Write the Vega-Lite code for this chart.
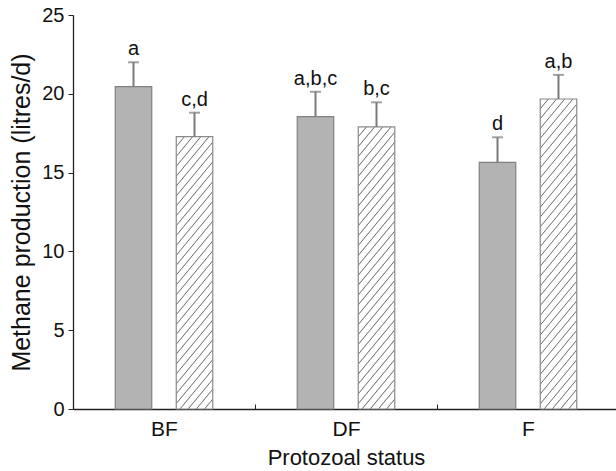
{
  "$schema": "https://vega.github.io/schema/vega-lite/v6.json",
  "autosize": {"type": "none"},
  "padding": {"left": 73, "top": 15, "right": 0, "bottom": 62},
  "width": 543,
  "height": 394,
  "background": "white",
  "config": {
    "view": {"stroke": null},
    "font": "Liberation Sans",
    "axis": {"labelFont": "Liberation Sans", "titleFont": "Liberation Sans", "labelColor": "#111", "titleColor": "#111", "titleFontWeight": "normal", "domainColor": "#222", "tickColor": "#222", "domainWidth": 1.3, "grid": false}
  },
  "data": {
    "values": [
      {"status": "BF", "group": "A", "mean": 20.45, "upper": 22.0, "label": "a"},
      {"status": "BF", "group": "B", "mean": 17.28, "upper": 18.8, "label": "c,d"},
      {"status": "DF", "group": "A", "mean": 18.55, "upper": 20.13, "label": "a,b,c"},
      {"status": "DF", "group": "B", "mean": 17.9, "upper": 19.46, "label": "b,c"},
      {"status": "F", "group": "A", "mean": 15.65, "upper": 17.24, "label": "d"},
      {"status": "F", "group": "B", "mean": 19.67, "upper": 21.2, "label": "a,b"}
    ]
  },
  "encoding": {
    "x": {"field": "status", "type": "nominal", "sort": ["BF", "DF", "F"],
      "scale": {"range": [0, 546], "paddingInner": 0, "paddingOuter": 0},
      "axis": {"title": "Protozoal status", "labelAngle": 0, "labelFontSize": 21, "titleFontSize": 22, "tickBand": "extent", "tickSize": -5, "labelPadding": 14, "titlePadding": 8}},
    "xOffset": {"field": "group", "type": "nominal", "scale": {"domain": ["A", "B"], "paddingInner": 0.4016, "paddingOuter": 0.6926}}
  },
  "layer": [
    {
      "transform": [{"filter": "datum.group === 'A'"}],
      "mark": {"type": "bar", "fill": "#b3b3b3", "stroke": "#808080", "strokeWidth": 1.2},
      "encoding": {"y": {"field": "mean", "type": "quantitative", "scale": {"domain": [0, 25], "nice": false},
        "axis": {"title": "Methane production (litres/d)", "values": [0, 5, 10, 15, 20, 25], "labelFontSize": 20, "titleFontSize": 25, "tickSize": 5, "labelPadding": 4, "titlePadding": 7}}}
    },
    {
      "transform": [{"filter": "datum.group === 'B' && datum.status === 'BF'"}],
      "mark": {"type": "bar", "stroke": "#8a8a8a", "strokeWidth": 1.2,
        "fill": {"gradient": "linear", "x1": 0, "y1": 0, "x2": 0.18309, "y2": 1.13203, "stops": [
          {"offset": 0, "color": "#ffffff"},
          {"offset": 0.02725, "color": "#ffffff"}, {"offset": 0.03125, "color": "#6e6e6e"}, {"offset": 0.03525, "color": "#ffffff"},
          {"offset": 0.0585, "color": "#ffffff"}, {"offset": 0.0625, "color": "#6e6e6e"}, {"offset": 0.0665, "color": "#ffffff"},
          {"offset": 0.08975, "color": "#ffffff"}, {"offset": 0.09375, "color": "#6e6e6e"}, {"offset": 0.09775, "color": "#ffffff"},
          {"offset": 0.121, "color": "#ffffff"}, {"offset": 0.125, "color": "#6e6e6e"}, {"offset": 0.129, "color": "#ffffff"},
          {"offset": 0.15225, "color": "#ffffff"}, {"offset": 0.15625, "color": "#6e6e6e"}, {"offset": 0.16025, "color": "#ffffff"},
          {"offset": 0.1835, "color": "#ffffff"}, {"offset": 0.1875, "color": "#6e6e6e"}, {"offset": 0.1915, "color": "#ffffff"},
          {"offset": 0.21475, "color": "#ffffff"}, {"offset": 0.21875, "color": "#6e6e6e"}, {"offset": 0.22275, "color": "#ffffff"},
          {"offset": 0.246, "color": "#ffffff"}, {"offset": 0.25, "color": "#6e6e6e"}, {"offset": 0.254, "color": "#ffffff"},
          {"offset": 0.27725, "color": "#ffffff"}, {"offset": 0.28125, "color": "#6e6e6e"}, {"offset": 0.28525, "color": "#ffffff"},
          {"offset": 0.3085, "color": "#ffffff"}, {"offset": 0.3125, "color": "#6e6e6e"}, {"offset": 0.3165, "color": "#ffffff"},
          {"offset": 0.33975, "color": "#ffffff"}, {"offset": 0.34375, "color": "#6e6e6e"}, {"offset": 0.34775, "color": "#ffffff"},
          {"offset": 0.371, "color": "#ffffff"}, {"offset": 0.375, "color": "#6e6e6e"}, {"offset": 0.379, "color": "#ffffff"},
          {"offset": 0.40225, "color": "#ffffff"}, {"offset": 0.40625, "color": "#6e6e6e"}, {"offset": 0.41025, "color": "#ffffff"},
          {"offset": 0.4335, "color": "#ffffff"}, {"offset": 0.4375, "color": "#6e6e6e"}, {"offset": 0.4415, "color": "#ffffff"},
          {"offset": 0.46475, "color": "#ffffff"}, {"offset": 0.46875, "color": "#6e6e6e"}, {"offset": 0.47275, "color": "#ffffff"},
          {"offset": 0.496, "color": "#ffffff"}, {"offset": 0.5, "color": "#6e6e6e"}, {"offset": 0.504, "color": "#ffffff"},
          {"offset": 0.52725, "color": "#ffffff"}, {"offset": 0.53125, "color": "#6e6e6e"}, {"offset": 0.53525, "color": "#ffffff"},
          {"offset": 0.5585, "color": "#ffffff"}, {"offset": 0.5625, "color": "#6e6e6e"}, {"offset": 0.5665, "color": "#ffffff"},
          {"offset": 0.58975, "color": "#ffffff"}, {"offset": 0.59375, "color": "#6e6e6e"}, {"offset": 0.59775, "color": "#ffffff"},
          {"offset": 0.621, "color": "#ffffff"}, {"offset": 0.625, "color": "#6e6e6e"}, {"offset": 0.629, "color": "#ffffff"},
          {"offset": 0.65225, "color": "#ffffff"}, {"offset": 0.65625, "color": "#6e6e6e"}, {"offset": 0.66025, "color": "#ffffff"},
          {"offset": 0.6835, "color": "#ffffff"}, {"offset": 0.6875, "color": "#6e6e6e"}, {"offset": 0.6915, "color": "#ffffff"},
          {"offset": 0.71475, "color": "#ffffff"}, {"offset": 0.71875, "color": "#6e6e6e"}, {"offset": 0.72275, "color": "#ffffff"},
          {"offset": 0.746, "color": "#ffffff"}, {"offset": 0.75, "color": "#6e6e6e"}, {"offset": 0.754, "color": "#ffffff"},
          {"offset": 0.77725, "color": "#ffffff"}, {"offset": 0.78125, "color": "#6e6e6e"}, {"offset": 0.78525, "color": "#ffffff"},
          {"offset": 0.8085, "color": "#ffffff"}, {"offset": 0.8125, "color": "#6e6e6e"}, {"offset": 0.8165, "color": "#ffffff"},
          {"offset": 0.83975, "color": "#ffffff"}, {"offset": 0.84375, "color": "#6e6e6e"}, {"offset": 0.84775, "color": "#ffffff"},
          {"offset": 0.871, "color": "#ffffff"}, {"offset": 0.875, "color": "#6e6e6e"}, {"offset": 0.879, "color": "#ffffff"},
          {"offset": 0.90225, "color": "#ffffff"}, {"offset": 0.90625, "color": "#6e6e6e"}, {"offset": 0.91025, "color": "#ffffff"},
          {"offset": 0.9335, "color": "#ffffff"}, {"offset": 0.9375, "color": "#6e6e6e"}, {"offset": 0.9415, "color": "#ffffff"},
          {"offset": 0.96475, "color": "#ffffff"}, {"offset": 0.96875, "color": "#6e6e6e"}, {"offset": 0.97275, "color": "#ffffff"},
          {"offset": 1, "color": "#ffffff"}
        ]}},
      "encoding": {"y": {"field": "mean", "type": "quantitative"}}
    },
    {
      "transform": [{"filter": "datum.group === 'B' && datum.status === 'DF'"}],
      "mark": {"type": "bar", "stroke": "#8a8a8a", "strokeWidth": 1.2,
        "fill": {"gradient": "linear", "x1": 0, "y1": 0, "x2": 0.17641, "y2": 1.12871, "stops": [
          {"offset": 0, "color": "#ffffff"},
          {"offset": 0.0263, "color": "#ffffff"}, {"offset": 0.0303, "color": "#6e6e6e"}, {"offset": 0.0343, "color": "#ffffff"},
          {"offset": 0.0566, "color": "#ffffff"}, {"offset": 0.0606, "color": "#6e6e6e"}, {"offset": 0.0646, "color": "#ffffff"},
          {"offset": 0.0869, "color": "#ffffff"}, {"offset": 0.0909, "color": "#6e6e6e"}, {"offset": 0.0949, "color": "#ffffff"},
          {"offset": 0.1172, "color": "#ffffff"}, {"offset": 0.1212, "color": "#6e6e6e"}, {"offset": 0.1252, "color": "#ffffff"},
          {"offset": 0.1475, "color": "#ffffff"}, {"offset": 0.1515, "color": "#6e6e6e"}, {"offset": 0.1555, "color": "#ffffff"},
          {"offset": 0.1778, "color": "#ffffff"}, {"offset": 0.1818, "color": "#6e6e6e"}, {"offset": 0.1858, "color": "#ffffff"},
          {"offset": 0.2081, "color": "#ffffff"}, {"offset": 0.2121, "color": "#6e6e6e"}, {"offset": 0.2161, "color": "#ffffff"},
          {"offset": 0.2384, "color": "#ffffff"}, {"offset": 0.2424, "color": "#6e6e6e"}, {"offset": 0.2464, "color": "#ffffff"},
          {"offset": 0.2687, "color": "#ffffff"}, {"offset": 0.2727, "color": "#6e6e6e"}, {"offset": 0.2767, "color": "#ffffff"},
          {"offset": 0.299, "color": "#ffffff"}, {"offset": 0.303, "color": "#6e6e6e"}, {"offset": 0.307, "color": "#ffffff"},
          {"offset": 0.3293, "color": "#ffffff"}, {"offset": 0.3333, "color": "#6e6e6e"}, {"offset": 0.3373, "color": "#ffffff"},
          {"offset": 0.3596, "color": "#ffffff"}, {"offset": 0.3636, "color": "#6e6e6e"}, {"offset": 0.3676, "color": "#ffffff"},
          {"offset": 0.3899, "color": "#ffffff"}, {"offset": 0.3939, "color": "#6e6e6e"}, {"offset": 0.3979, "color": "#ffffff"},
          {"offset": 0.4202, "color": "#ffffff"}, {"offset": 0.4242, "color": "#6e6e6e"}, {"offset": 0.4282, "color": "#ffffff"},
          {"offset": 0.4505, "color": "#ffffff"}, {"offset": 0.4545, "color": "#6e6e6e"}, {"offset": 0.4585, "color": "#ffffff"},
          {"offset": 0.4808, "color": "#ffffff"}, {"offset": 0.4848, "color": "#6e6e6e"}, {"offset": 0.4888, "color": "#ffffff"},
          {"offset": 0.5112, "color": "#ffffff"}, {"offset": 0.5152, "color": "#6e6e6e"}, {"offset": 0.5192, "color": "#ffffff"},
          {"offset": 0.5415, "color": "#ffffff"}, {"offset": 0.5455, "color": "#6e6e6e"}, {"offset": 0.5495, "color": "#ffffff"},
          {"offset": 0.5718, "color": "#ffffff"}, {"offset": 0.5758, "color": "#6e6e6e"}, {"offset": 0.5798, "color": "#ffffff"},
          {"offset": 0.6021, "color": "#ffffff"}, {"offset": 0.6061, "color": "#6e6e6e"}, {"offset": 0.6101, "color": "#ffffff"},
          {"offset": 0.6324, "color": "#ffffff"}, {"offset": 0.6364, "color": "#6e6e6e"}, {"offset": 0.6404, "color": "#ffffff"},
          {"offset": 0.6627, "color": "#ffffff"}, {"offset": 0.6667, "color": "#6e6e6e"}, {"offset": 0.6707, "color": "#ffffff"},
          {"offset": 0.693, "color": "#ffffff"}, {"offset": 0.697, "color": "#6e6e6e"}, {"offset": 0.701, "color": "#ffffff"},
          {"offset": 0.7233, "color": "#ffffff"}, {"offset": 0.7273, "color": "#6e6e6e"}, {"offset": 0.7313, "color": "#ffffff"},
          {"offset": 0.7536, "color": "#ffffff"}, {"offset": 0.7576, "color": "#6e6e6e"}, {"offset": 0.7616, "color": "#ffffff"},
          {"offset": 0.7839, "color": "#ffffff"}, {"offset": 0.7879, "color": "#6e6e6e"}, {"offset": 0.7919, "color": "#ffffff"},
          {"offset": 0.8142, "color": "#ffffff"}, {"offset": 0.8182, "color": "#6e6e6e"}, {"offset": 0.8222, "color": "#ffffff"},
          {"offset": 0.8445, "color": "#ffffff"}, {"offset": 0.8485, "color": "#6e6e6e"}, {"offset": 0.8525, "color": "#ffffff"},
          {"offset": 0.8748, "color": "#ffffff"}, {"offset": 0.8788, "color": "#6e6e6e"}, {"offset": 0.8828, "color": "#ffffff"},
          {"offset": 0.9051, "color": "#ffffff"}, {"offset": 0.9091, "color": "#6e6e6e"}, {"offset": 0.9131, "color": "#ffffff"},
          {"offset": 0.9354, "color": "#ffffff"}, {"offset": 0.9394, "color": "#6e6e6e"}, {"offset": 0.9434, "color": "#ffffff"},
          {"offset": 0.9657, "color": "#ffffff"}, {"offset": 0.9697, "color": "#6e6e6e"}, {"offset": 0.9737, "color": "#ffffff"},
          {"offset": 1, "color": "#ffffff"}
        ]}},
      "encoding": {"y": {"field": "mean", "type": "quantitative"}}
    },
    {
      "transform": [{"filter": "datum.group === 'B' && datum.status === 'F'"}],
      "mark": {"type": "bar", "stroke": "#8a8a8a", "strokeWidth": 1.2,
        "fill": {"gradient": "linear", "x1": 0, "y1": 0, "x2": 0.15895, "y2": 1.11943, "stops": [
          {"offset": 0, "color": "#ffffff"},
          {"offset": 0.0243, "color": "#ffffff"}, {"offset": 0.0278, "color": "#6e6e6e"}, {"offset": 0.0313, "color": "#ffffff"},
          {"offset": 0.0521, "color": "#ffffff"}, {"offset": 0.0556, "color": "#6e6e6e"}, {"offset": 0.0591, "color": "#ffffff"},
          {"offset": 0.0798, "color": "#ffffff"}, {"offset": 0.0833, "color": "#6e6e6e"}, {"offset": 0.0868, "color": "#ffffff"},
          {"offset": 0.1076, "color": "#ffffff"}, {"offset": 0.1111, "color": "#6e6e6e"}, {"offset": 0.1146, "color": "#ffffff"},
          {"offset": 0.1354, "color": "#ffffff"}, {"offset": 0.1389, "color": "#6e6e6e"}, {"offset": 0.1424, "color": "#ffffff"},
          {"offset": 0.1632, "color": "#ffffff"}, {"offset": 0.1667, "color": "#6e6e6e"}, {"offset": 0.1702, "color": "#ffffff"},
          {"offset": 0.1909, "color": "#ffffff"}, {"offset": 0.1944, "color": "#6e6e6e"}, {"offset": 0.1979, "color": "#ffffff"},
          {"offset": 0.2187, "color": "#ffffff"}, {"offset": 0.2222, "color": "#6e6e6e"}, {"offset": 0.2257, "color": "#ffffff"},
          {"offset": 0.2465, "color": "#ffffff"}, {"offset": 0.25, "color": "#6e6e6e"}, {"offset": 0.2535, "color": "#ffffff"},
          {"offset": 0.2743, "color": "#ffffff"}, {"offset": 0.2778, "color": "#6e6e6e"}, {"offset": 0.2813, "color": "#ffffff"},
          {"offset": 0.3021, "color": "#ffffff"}, {"offset": 0.3056, "color": "#6e6e6e"}, {"offset": 0.3091, "color": "#ffffff"},
          {"offset": 0.3298, "color": "#ffffff"}, {"offset": 0.3333, "color": "#6e6e6e"}, {"offset": 0.3368, "color": "#ffffff"},
          {"offset": 0.3576, "color": "#ffffff"}, {"offset": 0.3611, "color": "#6e6e6e"}, {"offset": 0.3646, "color": "#ffffff"},
          {"offset": 0.3854, "color": "#ffffff"}, {"offset": 0.3889, "color": "#6e6e6e"}, {"offset": 0.3924, "color": "#ffffff"},
          {"offset": 0.4132, "color": "#ffffff"}, {"offset": 0.4167, "color": "#6e6e6e"}, {"offset": 0.4202, "color": "#ffffff"},
          {"offset": 0.4409, "color": "#ffffff"}, {"offset": 0.4444, "color": "#6e6e6e"}, {"offset": 0.4479, "color": "#ffffff"},
          {"offset": 0.4687, "color": "#ffffff"}, {"offset": 0.4722, "color": "#6e6e6e"}, {"offset": 0.4757, "color": "#ffffff"},
          {"offset": 0.4965, "color": "#ffffff"}, {"offset": 0.5, "color": "#6e6e6e"}, {"offset": 0.5035, "color": "#ffffff"},
          {"offset": 0.5243, "color": "#ffffff"}, {"offset": 0.5278, "color": "#6e6e6e"}, {"offset": 0.5313, "color": "#ffffff"},
          {"offset": 0.5521, "color": "#ffffff"}, {"offset": 0.5556, "color": "#6e6e6e"}, {"offset": 0.5591, "color": "#ffffff"},
          {"offset": 0.5798, "color": "#ffffff"}, {"offset": 0.5833, "color": "#6e6e6e"}, {"offset": 0.5868, "color": "#ffffff"},
          {"offset": 0.6076, "color": "#ffffff"}, {"offset": 0.6111, "color": "#6e6e6e"}, {"offset": 0.6146, "color": "#ffffff"},
          {"offset": 0.6354, "color": "#ffffff"}, {"offset": 0.6389, "color": "#6e6e6e"}, {"offset": 0.6424, "color": "#ffffff"},
          {"offset": 0.6632, "color": "#ffffff"}, {"offset": 0.6667, "color": "#6e6e6e"}, {"offset": 0.6702, "color": "#ffffff"},
          {"offset": 0.6909, "color": "#ffffff"}, {"offset": 0.6944, "color": "#6e6e6e"}, {"offset": 0.6979, "color": "#ffffff"},
          {"offset": 0.7187, "color": "#ffffff"}, {"offset": 0.7222, "color": "#6e6e6e"}, {"offset": 0.7257, "color": "#ffffff"},
          {"offset": 0.7465, "color": "#ffffff"}, {"offset": 0.75, "color": "#6e6e6e"}, {"offset": 0.7535, "color": "#ffffff"},
          {"offset": 0.7743, "color": "#ffffff"}, {"offset": 0.7778, "color": "#6e6e6e"}, {"offset": 0.7813, "color": "#ffffff"},
          {"offset": 0.8021, "color": "#ffffff"}, {"offset": 0.8056, "color": "#6e6e6e"}, {"offset": 0.8091, "color": "#ffffff"},
          {"offset": 0.8298, "color": "#ffffff"}, {"offset": 0.8333, "color": "#6e6e6e"}, {"offset": 0.8368, "color": "#ffffff"},
          {"offset": 0.8576, "color": "#ffffff"}, {"offset": 0.8611, "color": "#6e6e6e"}, {"offset": 0.8646, "color": "#ffffff"},
          {"offset": 0.8854, "color": "#ffffff"}, {"offset": 0.8889, "color": "#6e6e6e"}, {"offset": 0.8924, "color": "#ffffff"},
          {"offset": 0.9132, "color": "#ffffff"}, {"offset": 0.9167, "color": "#6e6e6e"}, {"offset": 0.9202, "color": "#ffffff"},
          {"offset": 0.9409, "color": "#ffffff"}, {"offset": 0.9444, "color": "#6e6e6e"}, {"offset": 0.9479, "color": "#ffffff"},
          {"offset": 0.9687, "color": "#ffffff"}, {"offset": 0.9722, "color": "#6e6e6e"}, {"offset": 0.9757, "color": "#ffffff"},
          {"offset": 1, "color": "#ffffff"}
        ]}},
      "encoding": {"y": {"field": "mean", "type": "quantitative"}}
    },
    {
      "mark": {"type": "rule", "color": "#7a7a7a", "strokeWidth": 2},
      "encoding": {"y": {"field": "mean", "type": "quantitative"}, "y2": {"field": "upper"}}
    },
    {
      "mark": {"type": "tick", "color": "#7a7a7a", "thickness": 2, "size": 11, "orient": "horizontal"},
      "encoding": {"y": {"field": "upper", "type": "quantitative"}}
    },
    {
      "mark": {"type": "text", "font": "Liberation Sans", "fontSize": 20, "color": "#111", "baseline": "alphabetic", "dy": -7},
      "encoding": {"y": {"field": "upper", "type": "quantitative"}, "text": {"field": "label"}}
    }
  ]
}
